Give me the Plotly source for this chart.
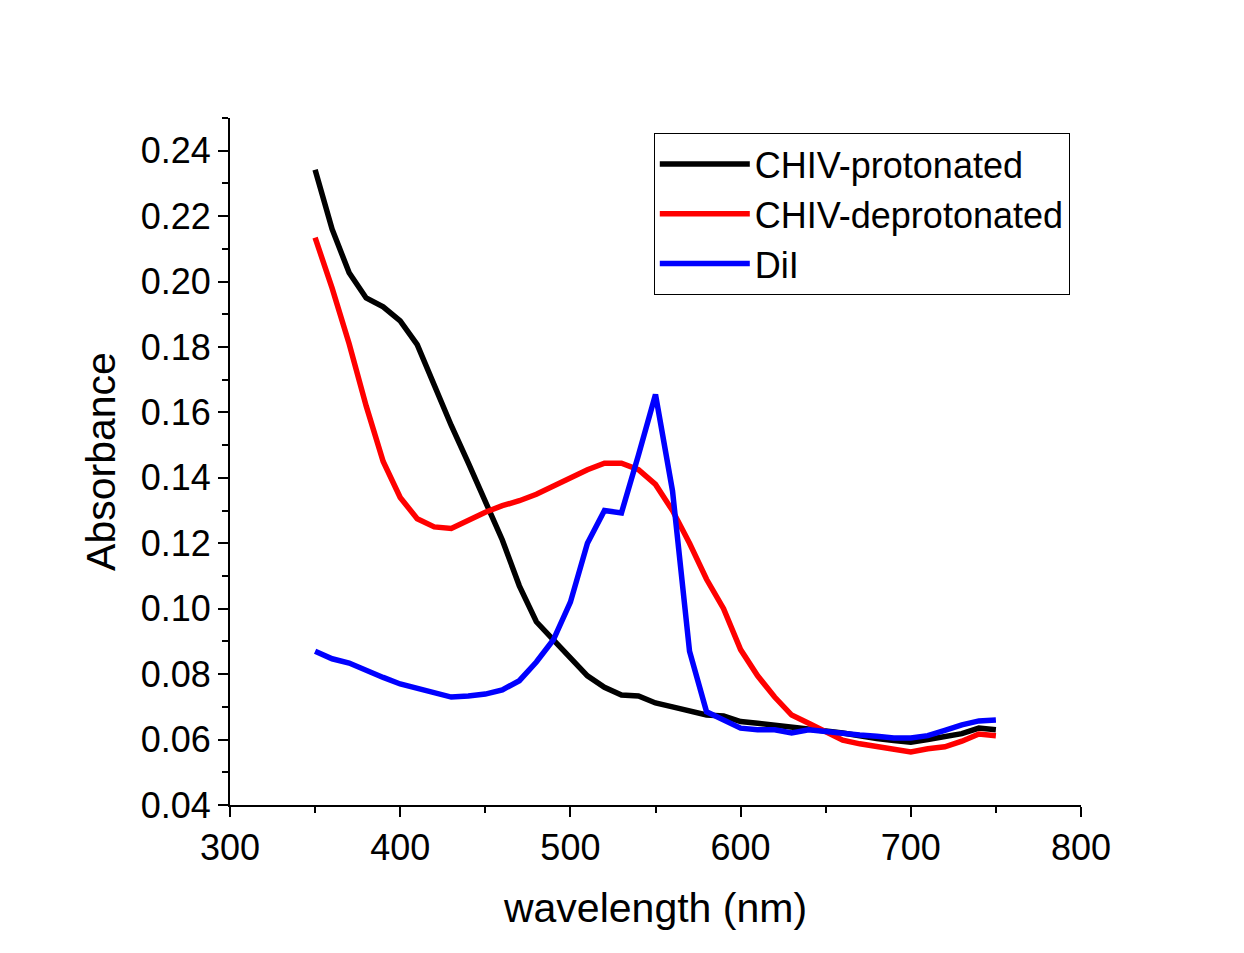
import plotly.graph_objects as go

wavelength = [350, 360, 370, 380, 390, 400, 410, 420, 430, 440, 450, 460, 470, 480, 490,
              500, 510, 520, 530, 540, 550, 560, 570, 580, 590, 600, 610, 620, 630, 640,
              650, 660, 670, 680, 690, 700, 710, 720, 730, 740, 750]

chiv_protonated = [0.2342, 0.216, 0.2027, 0.195, 0.1923, 0.188, 0.1807, 0.168, 0.156, 0.1446,
                   0.133, 0.121, 0.107, 0.096, 0.0905, 0.085, 0.0795, 0.076, 0.0736, 0.0733,
                   0.0712, 0.0700, 0.0686, 0.0675, 0.0672, 0.0655, 0.0650, 0.0645, 0.0638, 0.0633,
                   0.0626, 0.0620, 0.0610, 0.0603, 0.0597, 0.0592, 0.0600, 0.0608, 0.0618, 0.0635, 0.0630]

chiv_deprotonated = [0.2134, 0.198, 0.181, 0.162, 0.145, 0.134, 0.1275, 0.125, 0.1245, 0.127,
                     0.1295, 0.1315, 0.133, 0.135, 0.1375, 0.140, 0.1425, 0.1445, 0.1445, 0.1425,
                     0.138, 0.130, 0.120, 0.109, 0.100, 0.0875, 0.0795, 0.073, 0.0675, 0.065,
                     0.0625, 0.0598, 0.0587, 0.0578, 0.0568, 0.0562, 0.0572, 0.0578, 0.0595, 0.0617, 0.0612]

dil = [0.087, 0.0847, 0.0834, 0.081, 0.079, 0.077, 0.0758, 0.0746, 0.073, 0.0733,
       0.0739, 0.0752, 0.078, 0.0837, 0.0905, 0.102, 0.120, 0.130, 0.1293, 0.147,
       0.1655, 0.136, 0.087, 0.0685, 0.066, 0.0635, 0.063, 0.063, 0.062, 0.063,
       0.0625, 0.0618, 0.0614, 0.061, 0.0605, 0.0605, 0.0612, 0.0628, 0.0645, 0.0657, 0.066]

series = [
    ("CHIV-protonated", chiv_protonated, "#000000"),
    ("CHIV-deprotonated", chiv_deprotonated, "#ff0000"),
    ("DiI", dil, "#0000ff"),
]

FONT = "Liberation Sans, Arial, sans-serif"

fig = go.Figure()
for name, vals, color in series:
    fig.add_trace(go.Scatter(x=wavelength, y=vals, mode="lines", name=name,
                             line=dict(color=color, width=5.5)))

fig.update_layout(
    width=1244, height=953,
    paper_bgcolor="white", plot_bgcolor="white",
    margin=dict(l=222, r=171, t=110, b=156),
    font=dict(family=FONT, size=36, color="black"),
    showlegend=True,
    legend=dict(x=0.498, y=0.978, xanchor="left", yanchor="top",
                bordercolor="black", borderwidth=1, bgcolor="white",
                font=dict(family=FONT, size=36, color="black"),
                itemwidth=90, tracegroupgap=0),
    xaxis=dict(range=[300, 800], tickvals=[300, 400, 500, 600, 700, 800],
               showline=True, linecolor="black", linewidth=2,
               ticks="outside", ticklen=10, tickwidth=2, tickcolor="black",
               minor=dict(tickvals=[350, 450, 550, 650, 750], ticks="outside",
                          ticklen=6, tickwidth=2, tickcolor="black"),
               showgrid=False, zeroline=False,
               tickfont=dict(family=FONT, size=36),
               title=dict(text="wavelength (nm)", font=dict(family=FONT, size=41), standoff=26)),
    yaxis=dict(range=[0.04, 0.25], tickvals=[0.04, 0.06, 0.08, 0.10, 0.12, 0.14, 0.16, 0.18, 0.20, 0.22, 0.24],
               tickformat=".2f",
               showline=True, linecolor="black", linewidth=2,
               ticks="outside", ticklen=10, tickwidth=2, tickcolor="black",
               minor=dict(tickvals=[0.05, 0.07, 0.09, 0.11, 0.13, 0.15, 0.17, 0.19, 0.21, 0.23, 0.25],
                          ticks="outside", ticklen=6, tickwidth=2, tickcolor="black"),
               showgrid=False, zeroline=False,
               tickfont=dict(family=FONT, size=36),
               title=dict(text="Absorbance", font=dict(family=FONT, size=41), standoff=12)),
)

fig.write_html("out.html")
